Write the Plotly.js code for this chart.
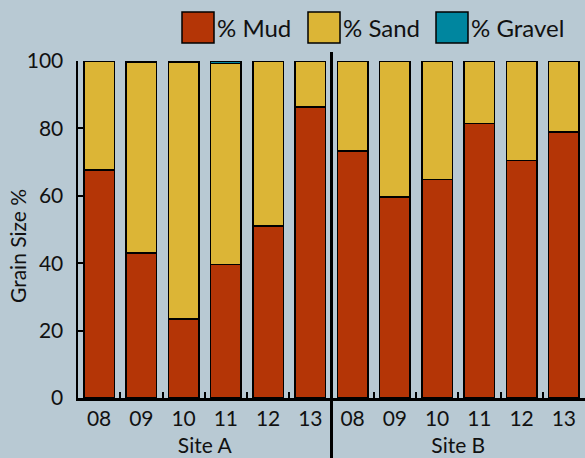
<!DOCTYPE html>
<html>
<head>
<meta charset="utf-8">
<script src="https://cdn.plot.ly/plotly-3.0.1.min.js"></script>
<style>html,body{margin:0;padding:0;background:#b8c9d3;}#chart{width:585px;height:458px;}</style>
</head>
<body>
<div id="chart"></div>
<script>
const sites = ["Site A","Site A","Site A","Site A","Site A","Site A","Site B","Site B","Site B","Site B","Site B","Site B"];
const years = ["08","09","10","11","12","13","08","09","10","11","12","13"];
const mud = [67.7, 43.1, 23.4, 39.6, 51.1, 86.3, 73.3, 59.6, 64.9, 81.4, 70.5, 78.9];
const gravel = [0, 0.3, 0.4, 0.7, 0, 0, 0, 0.2, 0, 0, 0, 0];
const sand = [32.3, 56.6, 76.2, 59.7, 48.9, 13.7, 26.7, 40.2, 35.1, 18.6, 29.5, 21.1];
const seriesNames = ["% Mud", "% Sand", "% Gravel"];
const colors = ["#b43506", "#dcb536", "#00869f"];
const yTitle = "Grain Size %";

const bg = "#b8c9d3";
const font = "Lato, 'Open Sans', sans-serif";
const xcat = [sites, years];
const vals = [mud, sand, gravel];
const traces = vals.map((v, i) => ({
  type: "bar", name: seriesNames[i], x: xcat, y: v,
  marker: {color: colors[i], line: {color: "#000", width: 1.5}},
  showlegend: false, hoverinfo: "y"
}));

// custom legend (large swatches)
const shapes = [];
const annotations = [];
const legX = [182, 308, 436];
seriesNames.forEach((n, i) => {
  shapes.push({type: "rect", xref: "paper", yref: "paper",
    x0: (legX[i] - 78) / 507, x1: (legX[i] + 32 - 78) / 507,
    y0: (398 - 43) / 337, y1: (398 - 12) / 337,
    fillcolor: colors[i], line: {color: "#000", width: 1.5}});
  annotations.push({xref: "paper", yref: "paper", x: (legX[i] + 33 - 78) / 507, y: (398 - 27.5) / 337,
    xanchor: "left", yanchor: "middle", text: n, showarrow: false,
    font: {family: font, size: 24, color: "#111"}});
});
// separator between sites
shapes.push({type: "line", xref: "paper", yref: "paper", x0: 0.5, x1: 0.5,
  y0: (398 - 458) / 337, y1: (398 - 52) / 337, line: {color: "#000", width: 3}});
annotations.push({xref: "paper", yref: "paper", x: (17 - 78) / 507, y: (398 - 246) / 337,
  text: yTitle, textangle: -90, showarrow: false, xanchor: "center", yanchor: "middle",
  font: {family: font, size: 21, color: "#111"}});

const layout = {
  width: 585, height: 458,
  margin: {l: 78, r: 0, t: 61, b: 60},
  paper_bgcolor: bg, plot_bgcolor: bg,
  barmode: "stack", bargap: 0.273,
  showlegend: false,
  xaxis: {type: "multicategory", showline: true, linecolor: "#000", linewidth: 2.5,
    ticks: "inside", ticklen: 6, tickwidth: 2, tickcolor: "#000",
    showdividers: false, showgrid: false,
    tickfont: {family: font, size: 21, color: "#111"}},
  yaxis: {range: [0, 100], dtick: 20, showline: true, linecolor: "#000", linewidth: 2.5,
    ticks: "inside", ticklen: 5, tickwidth: 2, tickcolor: "#000",
    showgrid: false, zeroline: false, ticklabelstandoff: 8,
    tickfont: {family: font, size: 21, color: "#111"}},
  shapes: shapes, annotations: annotations
};
Plotly.newPlot("chart", traces, layout, {displayModeBar: false, staticPlot: true});
</script>
</body>
</html>
